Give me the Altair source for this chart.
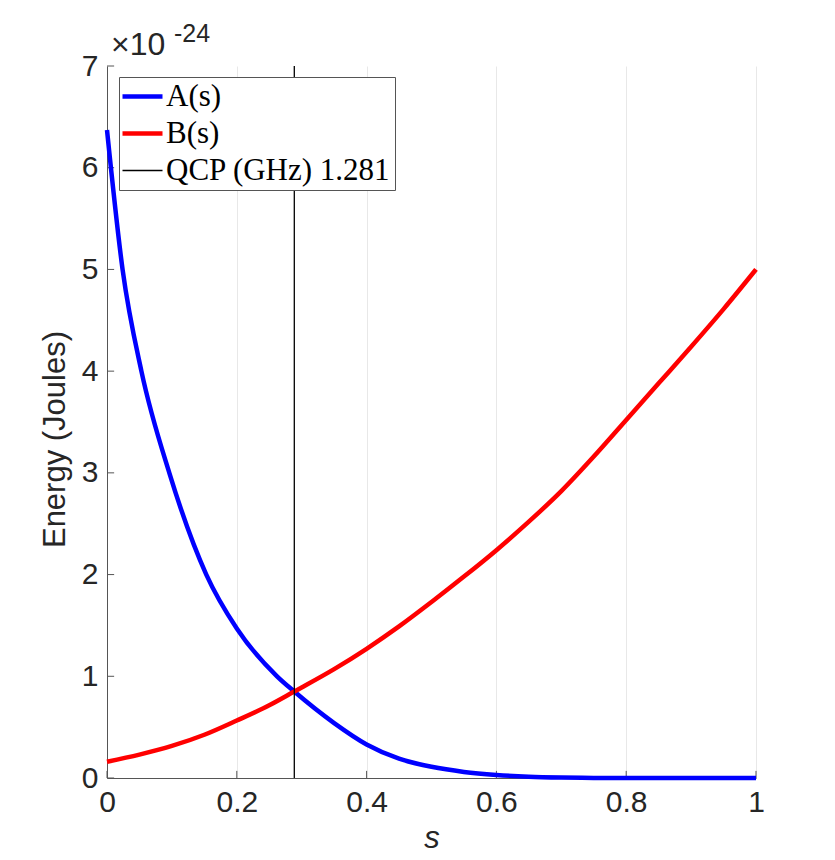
import altair as alt
import pandas as pd

# ---- data (energy in units of 1e-24 J) ----
s_A = [0.0, 0.024, 0.053, 0.096, 0.153, 0.2, 0.262, 0.2886, 0.35, 0.4, 0.45, 0.5,
       0.55, 0.6, 0.65, 0.7, 0.75, 0.8, 0.9, 1.0]
A_vals = [6.37, 5.0, 4.0, 3.0, 2.0, 1.47, 1.0, 0.85, 0.54, 0.33, 0.19, 0.11,
          0.06, 0.03, 0.012, 0.004, 0.001, 0.0, 0.0, 0.0]

s_B = [0.0, 0.05, 0.1, 0.15, 0.2, 0.25, 0.2886, 0.3, 0.35, 0.4, 0.45, 0.5, 0.55,
       0.6, 0.65, 0.7, 0.75, 0.8, 0.85, 0.9, 0.95, 1.0]
B_vals = [0.16, 0.23, 0.315, 0.425, 0.565, 0.715, 0.85, 0.89, 1.07, 1.27, 1.49, 1.73, 1.98,
          2.24, 2.52, 2.82, 3.16, 3.52, 3.88, 4.24, 4.61, 5.0]

qcp_s = [0.2886]

series_names = ["A(s)", "B(s)", "QCP (GHz) 1.281"]
series_colors = ["#0000ff", "#ff0000", "#000000"]

x_ticks = [0, 0.2, 0.4, 0.6, 0.8, 1]
y_ticks = [0, 1, 2, 3, 4, 5, 6, 7]

# ---- tables ----
lines_df = pd.concat([
    pd.DataFrame({"s": s_A, "E": A_vals, "series": series_names[0]}),
    pd.DataFrame({"s": s_B, "E": B_vals, "series": series_names[1]}),
])
qcp_df = pd.DataFrame({"s": qcp_s, "series": [series_names[2]]})
xt_df = pd.DataFrame({"s": x_ticks})
yt_df = pd.DataFrame({"E": y_ticks})
exp_df = pd.DataFrame({"s": [0], "E": [7]})

FONT = "Liberation Sans"
AXC = "#262626"

x_scale = alt.Scale(domain=[0, 1], nice=False, zero=False)
y_scale = alt.Scale(domain=[0, 7], nice=False)

legend = alt.Legend(
    title=None, orient="none", legendX=12, legendY=11,
    symbolType="stroke", symbolSize=1600, symbolOffset=4,
    symbolStrokeWidth=alt.ExprRef(expr="datum.value === 'QCP (GHz) 1.281' ? 1.3 : 4.5"),
    labelFont="Liberation Serif", labelFontSize=31, labelColor="black",
    labelLimit=500, fillColor="white", strokeColor="#555555", padding=4,
    labelOffset=8, rowPadding=5,
)
color_enc = alt.Color("series:N", scale=alt.Scale(domain=series_names, range=series_colors), legend=legend)

x_enc = alt.X("s:Q", scale=x_scale, axis=alt.Axis(
    values=x_ticks, format=".1~f", title="s", titleFontStyle="italic",
    titleFontSize=31, titlePadding=6, labelFlush=False))
y_enc = alt.Y("E:Q", scale=y_scale, axis=alt.Axis(
    values=y_ticks, format="d", title="Energy (Joules)", titleFontSize=31,
    titleY=373, titleX=-36, labelFlush=False))

lines = alt.Chart(lines_df).mark_line(interpolate="monotone", strokeWidth=4.5).encode(
    x=x_enc, y=y_enc, color=color_enc,
)
qcp = alt.Chart(qcp_df).mark_rule(strokeWidth=1.3).encode(
    x=alt.X("s:Q", scale=x_scale), color=color_enc,
)
xt = alt.Chart(xt_df).mark_rule(color="#555555", strokeWidth=1).encode(
    x=alt.X("s:Q", scale=x_scale), y=alt.datum(0), y2=alt.datum(0.07),
)
yt = alt.Chart(yt_df).mark_rule(color="#555555", strokeWidth=1).encode(
    y=alt.Y("E:Q", scale=y_scale), x=alt.datum(0), x2=alt.datum(0.011),
)
exp_main = alt.Chart(exp_df).mark_text(
    text="×10", font=FONT, fontSize=32, color=AXC, align="left",
    baseline="alphabetic", dx=4, dy=-11,
).encode(x=alt.X("s:Q", scale=x_scale), y=alt.Y("E:Q", scale=y_scale))
exp_sup = alt.Chart(exp_df).mark_text(
    text="-24", font=FONT, fontSize=25, color=AXC, align="left",
    baseline="alphabetic", dx=67, dy=-24,
).encode(x=alt.X("s:Q", scale=x_scale), y=alt.Y("E:Q", scale=y_scale))

chart = alt.layer(xt, yt, lines, qcp, exp_main, exp_sup).properties(
    width=649, height=712,
    autosize=alt.AutoSizeParams(type="none"),
    padding={"left": 107, "top": 66, "right": 79, "bottom": 82},
    background="white",
).configure_view(stroke=None).configure_axis(
    labelFont=FONT, labelFontSize=30, labelColor=AXC, titleFont=FONT,
    titleColor=AXC, titleFontWeight="normal", domainColor="#555555",
    domainWidth=1, tickSize=0, gridColor="#e8e8e8", gridWidth=1,
    labelPadding=9,
)

chart.save("out.html", embed_options={"renderer": "svg", "actions": False})
